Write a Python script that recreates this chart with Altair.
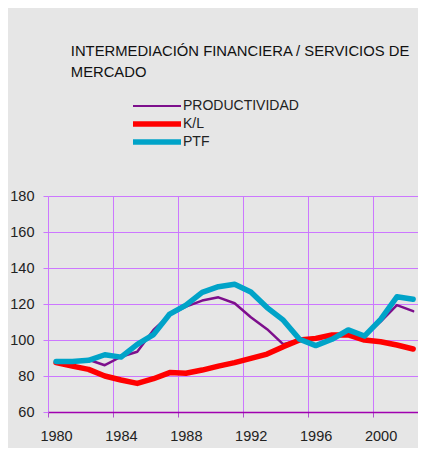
import altair as alt
import pandas as pd

years = list(range(1980, 2003))
productividad = [88, 88, 89, 86, 90.7, 93.5, 105.6, 113.9, 118.5, 121.9, 123.7, 120.4,
                 112.6, 106, 97.6, 100, 97, 100, 105, 102, 110.2, 119.4, 116]
kl = [87.5, 85.5, 83.7, 80, 77.8, 75.9, 78.5, 81.9, 81.5, 83.3, 85.5, 87.4,
      89.8, 92.2, 96.3, 100, 100.9, 102.8, 102.8, 100, 99, 97.2, 95]
ptf = [88, 88, 88.7, 91.8, 90.5, 97.6, 103, 114.4, 119.4, 126.5, 129.6, 131,
       126.7, 118, 111, 100.4, 96.9, 100.4, 105.6, 102.2, 111.5, 124, 122.6]
series_names = ["PRODUCTIVIDAD", "K/L", "PTF"]
series_colors = ["#7d0f8c", "#ff0000", "#00a3c8"]
title_lines = ["INTERMEDIACIÓN FINANCIERA / SERVICIOS DE", "MERCADO"]
x_boundaries = [1979.5, 1983.5, 1987.5, 1991.5, 1995.5, 1999.5]
y_ticks = [60, 80, 100, 120, 140, 160, 180]

rows = []
for name, vals in zip(series_names, [productividad, kl, ptf]):
    for yr, v in zip(years, vals):
        rows.append({"year": yr, "value": v, "series": name})
df = pd.DataFrame(rows)

FONT = "Liberation Sans"
GRID = "#cc77ff"

chart = alt.Chart(df).mark_line(clip=True, strokeJoin="round", strokeCap="round").encode(
    x=alt.X("year:Q",
            scale=alt.Scale(domain=[1979.5, 2002.3], nice=False, zero=False),
            axis=alt.Axis(values=x_boundaries, title=None, grid=True, gridColor=GRID,
                          gridWidth=1, tickColor="#b050d0", tickSize=5, tickWidth=1,
                          domainColor="#a000b0", domainWidth=1.5,
                          labelExpr="format(datum.value + 0.5, 'd')",
                          labelOffset=8, labelPadding=12, labelFontSize=14.5,
                          labelColor="#222222", labelFont=FONT, labelFlush=False)),
    y=alt.Y("value:Q",
            scale=alt.Scale(domain=[60, 180], nice=False, zero=False),
            axis=alt.Axis(values=y_ticks, title=None, grid=True, gridColor=GRID,
                          gridWidth=1, tickColor=GRID, tickSize=5, domain=False,
                          labelPadding=9, labelFontSize=14.5, labelColor="#222222",
                          labelFont=FONT)),
    color=alt.Color("series:N",
                    scale=alt.Scale(domain=series_names, range=series_colors),
                    legend=alt.Legend(orient="none", legendX=102, legendY=-97,
                                      title=None, symbolType="stroke", symbolSize=2304,
                                      symbolStrokeWidth={"expr": "datum.value === 'PRODUCTIVIDAD' ? 2.2 : 5.3"},
                                      labelFontSize=14, gridAlign="all",
                                      labelColor="#222222", labelFont=FONT,
                                      labelOffset=19, rowPadding=-6)),
    strokeWidth=alt.condition(alt.datum.series == "PRODUCTIVIDAD", alt.value(2.5), alt.value(5.5)),
    order=alt.Order("year:Q"),
).properties(
    width=370,
    height=216,
    padding={"left": 40, "top": 188, "right": 0, "bottom": 36},
    autosize=alt.AutoSizeParams(type="none"),
    background="#e6e6e6",
    title=alt.TitleParams(text=title_lines, anchor="start", dx=61, offset=19,
                          fontSize=14.8, font=FONT, fontWeight="normal",
                          color="#111111", lineHeight=21),
).configure_view(stroke=None)

chart.save("out.html", embed_options={"renderer": "svg", "actions": False})
